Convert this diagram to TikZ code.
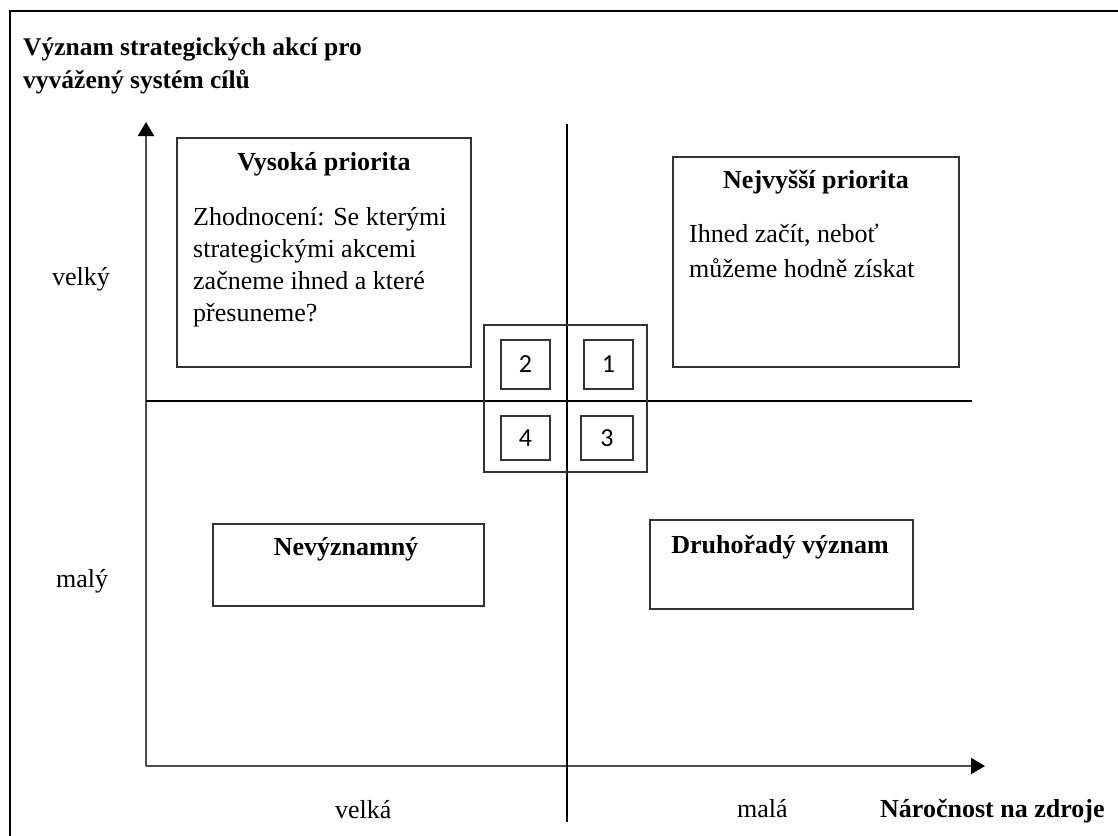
\documentclass[tikz,border=0pt]{standalone}
\usepackage{fontspec}
\setmainfont{Liberation Serif}
\newfontfamily\numfont{Carlito}
\usetikzlibrary{arrows.meta}
\begin{document}
\begin{tikzpicture}[x=1pt,y=-1pt,
  box/.style={draw=black!80,line width=1.3pt,inner sep=0pt},
  numbox/.style={box,font=\numfont\fontsize{26}{30}\selectfont},
  txt/.style={inner sep=0pt,font=\fontsize{26}{32}\selectfont},
  head/.style={txt,anchor=base,font=\fontsize{26}{32}\selectfont\bfseries},
  body/.style={txt,anchor=base west,align=left},
  axis/.style={draw=black!70,line width=2pt,
    -{Triangle[width=16pt,length=14pt,color=black,fill=black]}},
  divider/.style={draw=black,line width=1.2pt}]
\useasboundingbox (0,0) rectangle (1118,835);
\draw[line width=2pt] (10,11) rectangle (1160,880);

% title of the vertical axis (anchored at the baseline of its last line)
\node[body,font=\fontsize{25.5}{33}\selectfont\bfseries] (title) at (23,88)
  {Význam strategických akcí pro\\vyvážený systém cílů};

% axes
\coordinate (o) at (146,766);
\coordinate (ytop) at (146,122);
\coordinate (xend) at (985,766);
\draw[axis] (o) -- (ytop);
\draw[axis] (o) -- (xend);

% quadrant dividers
\coordinate (vt) at (567,124);
\coordinate (vb) at (567,822);
\coordinate (hl) at (146,401);
\coordinate (hr) at (972,401);
\draw[divider] (vt) -- (vb);
\draw[divider] (hl) -- (hr);

% central key with the quadrant numbers
\node[box,minimum width=163pt,minimum height=147pt] (key) at (565.5,398.5) {};
\node[numbox,minimum width=49pt,minimum height=49pt] (q2) at (525.5,364.5) {2};
\node[numbox,minimum width=49pt,minimum height=49pt] (q1) at (608.5,364.5) {1};
\node[numbox,minimum width=49pt,minimum height=44pt] (q4) at (525.5,438) {4};
\node[numbox,minimum width=52pt,minimum height=44pt] (q3) at (607,438) {3};

% quadrant boxes
\node[box,minimum width=294pt,minimum height=229pt] (vys) at (324,252.5) {};
\node[head] (vysT) at (324,170) {Vysoká priorita};
\node[body] (vysB) at (193,321)
  {Zhodnocení: Se kterými\\strategickými akcemi\\začneme ihned a které\\přesuneme?};

\node[box,minimum width=286pt,minimum height=210pt] (nej) at (816,262) {};
\node[head] (nejT) at (816,188) {Nejvyšší priorita};
\node[body,font=\fontsize{26}{35}\selectfont] (nejB) at (689,277)
  {Ihned začít, neboť\\můžeme hodně získat};

\node[box,minimum width=271pt,minimum height=82pt] (nev) at (348.5,565) {};
\node[head] (nevT) at (346,555) {Nevýznamný};

\node[box,minimum width=263pt,minimum height=89pt] (dru) at (781.5,564.5) {};
\node[head] (druT) at (780,553) {Druhořadý význam};

% axis values and name
\node[txt,anchor=base west] (velky) at (52,285) {velký};
\node[txt,anchor=base west] (maly) at (56,587) {malý};
\node[txt,anchor=base west] (velka) at (335,818) {velká};
\node[txt,anchor=base west] (mala) at (737,817) {malá};
\node[txt,anchor=base west,font=\fontsize{26}{32}\selectfont\bfseries] (naroc) at (880,817)
  {Náročnost na zdroje};
\end{tikzpicture}
\end{document}
